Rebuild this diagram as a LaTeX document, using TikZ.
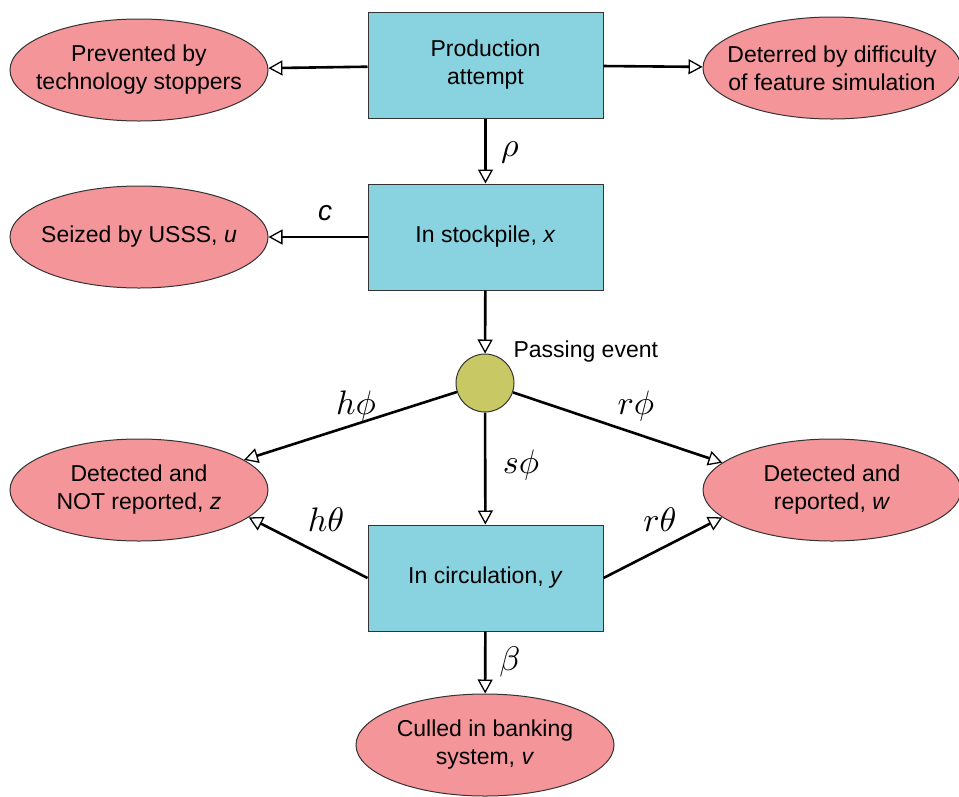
\documentclass[tikz,border=0pt]{standalone}
\usepackage{graphicx}
\usepackage{fontspec}
\setmainfont{Liberation Sans}
\setsansfont{Liberation Sans}
\usetikzlibrary{shapes.geometric,arrows.meta}
\definecolor{boxc}{HTML}{89D3E0}
\definecolor{ellc}{HTML}{F4959A}
\definecolor{circc}{HTML}{C8C864}
\newcommand{\biglbl}[1]{\scalebox{3.4}{$#1$}}
\begin{document}
\begin{tikzpicture}[x=1pt,y=-1pt,
  font=\fontsize{23}{28}\selectfont,
  stepbox/.style={draw=black!80, line width=1pt, fill=boxc, minimum width=235pt, minimum height=106pt, align=center, inner sep=0pt},
  oval/.style={ellipse, draw=black!80, line width=1pt, fill=ellc, minimum width=258pt, minimum height=102pt, align=center, inner xsep=-18pt, inner ysep=-12pt},
  conn/.style={line width=2.6pt, -{Triangle[open, length=14pt, width=15pt, line width=1.3pt, fill=white]}},
  lbl/.style={font=\normalsize, inner sep=0pt}
]
\useasboundingbox (0,0) rectangle (959,796);
\node[stepbox] (prod) at (485.5,65) {Production\\attempt};
\node[stepbox] (stock) at (485.5,237) {In stockpile, \textit{x}};
\node[stepbox] (circ) at (485.5,578) {In circulation, \textit{y}};
\node[circle, draw=black!80, line width=1pt, fill=circc, minimum size=58pt, inner sep=0pt] (pass) at (485,383) {};
\node[anchor=west] (passlbl) at (510,352) {Passing event};

\node[oval] (prev) at (139,70) {Prevented by\\technology stoppers};
\node[oval] (det) at (832,68) {Deterred by difficulty\\of feature simulation};
\node[oval] (seiz) at (139,237) {Seized by USSS, \textit{u}};
\node[oval] (nrep) at (139,490) {Detected and\\NOT reported, \textit{z}};
\node[oval] (rep) at (832,490) {Detected and\\reported, \textit{w}};
\node[oval] (cull) at (485,745) {Culled in banking\\system, \textit{v}};

\draw[conn] (prod) -- (prev);
\draw[conn] (prod) -- (det);
\draw[conn] (prod) -- (stock);
\draw[conn] (stock) -- (seiz);
\draw[conn] (stock) -- (pass);
\draw[conn] (pass) -- (nrep.16);
\draw[conn] (pass) -- (rep.166);
\draw[conn] (pass) -- (circ);
\draw[conn] (circ.west) -- (nrep.-14);
\draw[conn] (circ.east) -- (rep.194);
\draw[conn] (circ) -- (cull);

\node[lbl] (rho) at (510,152) {\biglbl{\rho}};
\node[font=\fontsize{28}{28}\selectfont] (c) at (325,213) {\textit{c}};
\node[lbl] (hphi) at (356,406) {\biglbl{h\phi}};
\node[lbl] (rphi) at (636,406) {\biglbl{r\phi}};
\node[lbl] (sphi) at (521,465) {\biglbl{s\phi}};
\node[lbl] (htheta) at (326,520) {\biglbl{h\theta}};
\node[lbl] (rtheta) at (660,520) {\biglbl{r\theta}};
\node[lbl] (beta) at (510,662) {\biglbl{\beta}};
\end{tikzpicture}
\end{document}
